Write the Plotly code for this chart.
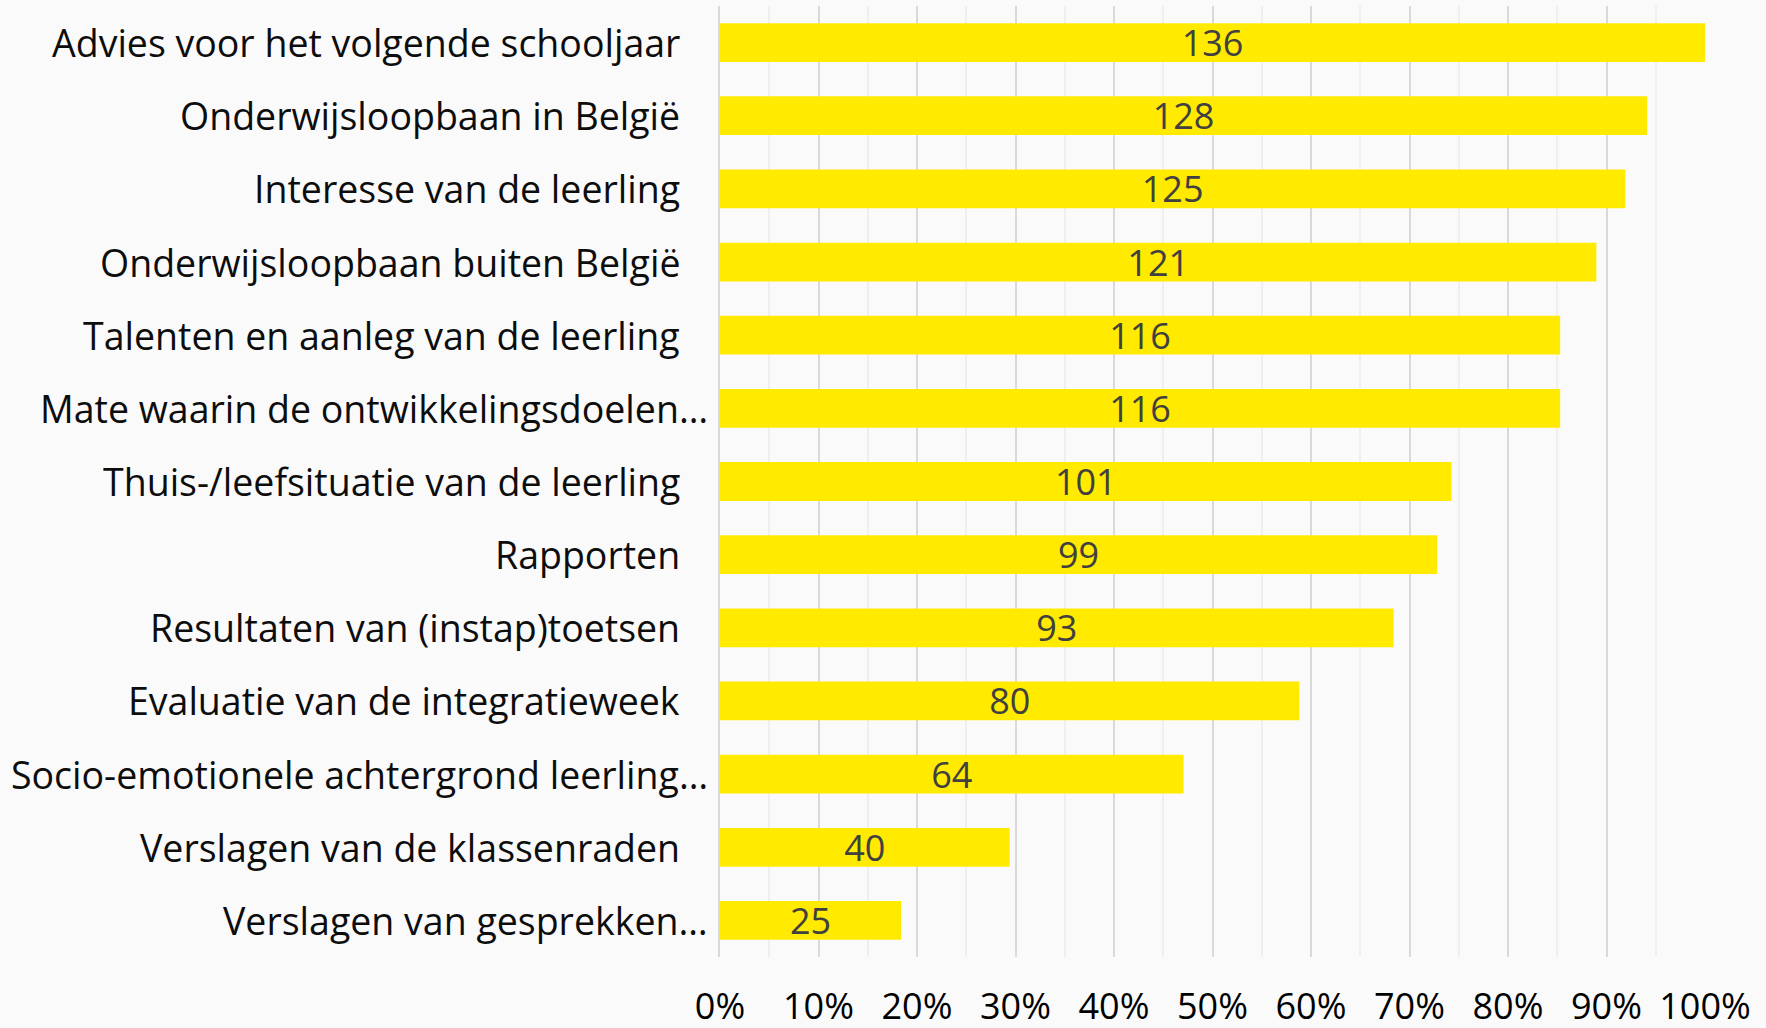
import plotly.graph_objects as go

categories = [
    "Advies voor het volgende schooljaar",
    "Onderwijsloopbaan in België",
    "Interesse van de leerling",
    "Onderwijsloopbaan buiten België",
    "Talenten en aanleg van de leerling",
    "Mate waarin de ontwikkelingsdoelen…",
    "Thuis-/leefsituatie van de leerling",
    "Rapporten",
    "Resultaten van (instap)toetsen",
    "Evaluatie van de integratieweek",
    "Socio-emotionele achtergrond leerling…",
    "Verslagen van de klassenraden",
    "Verslagen van gesprekken…",
]
counts = [136, 128, 125, 121, 116, 116, 101, 99, 93, 80, 64, 40, 25]

max_count = max(counts)
shares = [c / max_count for c in counts]

W, H = 1766, 1028
x0_px, x1_px = 720, 1705
y_top_px, y_bot_px = 6, 957

fig = go.Figure(
    go.Bar(
        x=shares,
        y=categories,
        orientation="h",
        marker=dict(color="#FFEA00", line=dict(width=0)),
        text=[str(c) for c in counts],
        textposition="inside",
        insidetextanchor="middle",
        constraintext="none",
        textangle=0,
        textfont=dict(family="Open Sans", size=36, color="#404040"),
        hoverinfo="skip",
        cliponaxis=False,
    )
)

annotations = []
for cat in categories:
    end_px = 710 if cat.endswith("…") else 682
    annotations.append(
        dict(
            x=end_px / W,
            xref="paper",
            y=cat,
            yref="y",
            text=cat,
            showarrow=False,
            xanchor="right",
            yanchor="middle",
            font=dict(family="Open Sans", size=37.5, color="#0D0D0D"),
        )
    )

fig.update_layout(
    width=W,
    height=H,
    autosize=False,
    margin=dict(l=0, r=0, t=0, b=0, pad=0),
    paper_bgcolor="#FAFAFA",
    plot_bgcolor="#FAFAFA",
    bargap=0.47,
    showlegend=False,
    uniformtext=dict(mode=False),
    annotations=annotations,
    xaxis=dict(
        domain=[x0_px / W, x1_px / W],
        range=[0, 1],
        dtick=0.1,
        tick0=0,
        tickformat=".0%",
        showgrid=True,
        gridcolor="#D9D9D9",
        gridwidth=1.5,
        zeroline=False,
        showline=False,
        ticks="",
        automargin=False,
        ticklabelstandoff=25,
        tickfont=dict(family="Open Sans", size=36, color="#000000"),
        minor=dict(dtick=0.05, tick0=0, showgrid=True, gridcolor="#EFEFEF", gridwidth=1.5),
        fixedrange=True,
    ),
    yaxis=dict(
        domain=[1 - y_bot_px / H, 1 - y_top_px / H],
        autorange="reversed",
        showticklabels=False,
        showgrid=False,
        showline=True,
        linecolor="#D9D9D9",
        linewidth=2,
        zeroline=False,
        ticks="",
        automargin=False,
        fixedrange=True,
    ),
)

fig.write_html(
    "out.html",
    config={"responsive": False, "displayModeBar": False},
    post_script="document.body.style.margin='0';document.body.style.overflow='hidden';document.body.style.background='#FAFAFA';",
)
